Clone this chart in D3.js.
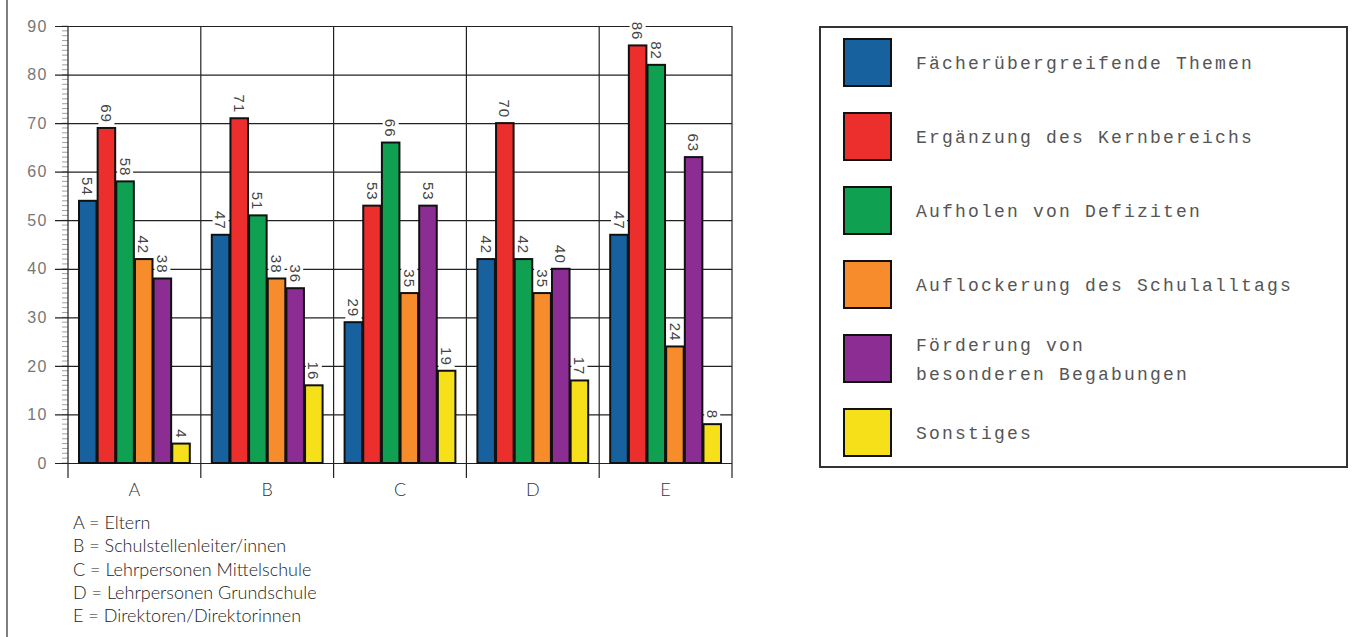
<!DOCTYPE html>
<html>
<head>
<meta charset="utf-8">
<script src="https://cdn.jsdelivr.net/npm/d3@7"></script>
<style>
  body { margin: 0; background: #fff; }
  svg { display: block; }
</style>
</head>
<body>
<div id="chart"></div>
<script>
// data
const categories = ["A", "B", "C", "D", "E"];
const seriesNames = [
    "Fächerübergreifende Themen",
    "Ergänzung des Kernbereichs",
    "Aufholen von Defiziten",
    "Auflockerung des Schulalltags",
    "Förderung von\nbesonderen Begabungen",
    "Sonstiges"
];
const facherValues   = [54, 47, 29, 42, 47];
const erganzValues   = [69, 71, 53, 70, 86];
const defizitValues  = [58, 51, 66, 42, 82];
const alltagValues   = [42, 38, 35, 35, 24];
const begabungValues = [38, 36, 53, 40, 63];
const sonstValues    = [4, 16, 19, 17, 8];
const yTicks = [0, 10, 20, 30, 40, 50, 60, 70, 80, 90];
const footnotes = [
    "A = Eltern",
    "B = Schulstellenleiter/innen",
    "C = Lehrpersonen Mittelschule",
    "D = Lehrpersonen Grundschule",
    "E = Direktoren/Direktorinnen"
];
const colors = ["#17619f", "#ec2f2c", "#10a052", "#f68c2c", "#8c2d94", "#f6e01a"];

const allValues = [facherValues, erganzValues, defizitValues, alltagValues, begabungValues, sonstValues];

const W = 1355, H = 637;
const plot = {left: 68, right: 732, top: 26, bottom: 463};

const svg = d3.select("#chart").append("svg")
    .attr("width", W).attr("height", H);

// outer left frame line
svg.append("line")
    .attr("x1", 7).attr("x2", 7).attr("y1", 0).attr("y2", H)
    .attr("stroke", "#555").attr("stroke-width", 1.5);

const x0 = d3.scaleBand().domain(categories).range([plot.left, plot.right]);
const x1 = d3.scaleBand().domain(d3.range(seriesNames.length))
    .range([11, x0.bandwidth() - 11]).paddingInner(0.06);
const y = d3.scaleLinear().domain([0, 90]).range([plot.bottom, plot.top]);

// minor ticks on the y axis
svg.append("g").selectAll("line")
    .data(d3.range(0, 91))
    .join("line")
    .attr("x1", plot.left - 6).attr("x2", plot.left)
    .attr("y1", d => y(d)).attr("y2", d => y(d))
    .attr("stroke", "#888").attr("stroke-width", 0.8);

// horizontal grid + tick labels
const yAxis = svg.append("g")
    .attr("transform", `translate(${plot.right},0)`)
    .call(d3.axisLeft(y).tickValues(yTicks).tickSize(plot.right - plot.left + 13).tickPadding(7));
yAxis.select(".domain").remove();
yAxis.selectAll(".tick line").attr("stroke", "#222").attr("stroke-width", 1.2);
yAxis.selectAll(".tick text")
    .attr("fill", "#777")
    .style("font-family", "'Liberation Sans', Arial, sans-serif")
    .style("font-size", "16px")
    .style("letter-spacing", "1.5px");

// vertical category dividers (extend below the zero line)
const dividers = categories.map(c => x0(c)).concat([plot.right]);
svg.append("g").selectAll("line")
    .data(dividers)
    .join("line")
    .attr("x1", d => d).attr("x2", d => d)
    .attr("y1", plot.top).attr("y2", plot.bottom + 15)
    .attr("stroke", "#222").attr("stroke-width", 1.2);

// bars
const groups = svg.append("g").selectAll("g")
    .data(categories)
    .join("g")
    .attr("transform", d => `translate(${x0(d)},0)`);

groups.selectAll("rect")
    .data((c, ci) => allValues.map((vals, si) => ({si: si, v: vals[ci]})))
    .join("rect")
    .attr("x", d => x1(d.si))
    .attr("y", d => y(d.v))
    .attr("width", x1.bandwidth())
    .attr("height", d => y(0) - y(d.v))
    .attr("fill", d => colors[d.si])
    .attr("stroke", "#111")
    .attr("stroke-width", 2);

// value labels, rotated, with white boxes
const labels = groups.selectAll("g.lab")
    .data((c, ci) => allValues.map((vals, si) => ({si: si, v: vals[ci]})))
    .join("g")
    .attr("class", "lab")
    .attr("transform", d => `translate(${x1(d.si) + x1.bandwidth() / 2},${y(d.v) - 3}) rotate(90)`);

labels.append("rect")
    .attr("x", d => -(String(d.v).length * 10 + 4))
    .attr("y", -8)
    .attr("width", d => String(d.v).length * 10 + 4)
    .attr("height", 16)
    .attr("fill", "#fff");

labels.append("text")
    .attr("x", -2)
    .attr("dy", "0.36em")
    .attr("text-anchor", "end")
    .attr("fill", "#444")
    .style("font-family", "'Liberation Sans', Arial, sans-serif")
    .style("font-size", "15px")
    .style("letter-spacing", "1px")
    .text(d => d.v);

// category labels
svg.append("g").selectAll("text")
    .data(categories)
    .join("text")
    .attr("x", d => x0(d) + x0.bandwidth() / 2)
    .attr("y", 496)
    .attr("text-anchor", "middle")
    .attr("fill", "#333")
    .style("font-family", "Lato, 'Open Sans', sans-serif")
    .style("font-size", "18px")
    .style("font-weight", 300)
    .text(d => d);

// footnotes
svg.append("g").selectAll("text")
    .data(footnotes)
    .join("text")
    .attr("x", 73)
    .attr("y", (d, i) => 529 + i * 23.3)
    .attr("fill", "#222")
    .style("font-family", "Lato, 'Open Sans', sans-serif")
    .style("font-size", "18px")
    .style("font-weight", 300)
    .text(d => d);

// legend
const legend = svg.append("g");
legend.append("rect")
    .attr("x", 820).attr("y", 27).attr("width", 527).attr("height", 440)
    .attr("fill", "#fff").attr("stroke", "#333").attr("stroke-width", 2);

const ly = d3.scalePoint().domain(d3.range(seriesNames.length)).range([63, 433]);
const items = legend.selectAll("g.item")
    .data(seriesNames)
    .join("g")
    .attr("class", "item")
    .attr("transform", (d, i) => `translate(0,${ly(i)})`);

items.append("rect")
    .attr("x", 844).attr("y", -24).attr("width", 47).attr("height", 47)
    .attr("fill", (d, i) => colors[i])
    .attr("stroke", "#111").attr("stroke-width", 2);

items.each(function(d) {
    const lines = d.split("\n");
    const t = d3.select(this).append("text")
        .attr("x", 916)
        .attr("fill", "#555")
        .style("font-family", "'Liberation Mono', 'Courier New', monospace")
        .style("font-size", "18px")
        .style("letter-spacing", "2.2px");
    lines.forEach((ln, k) => {
        t.append("tspan")
            .attr("x", 916)
            .attr("y", (k - (lines.length - 1) / 2) * 29 + 6)
            .text(ln);
    });
});
</script>
</body>
</html>
